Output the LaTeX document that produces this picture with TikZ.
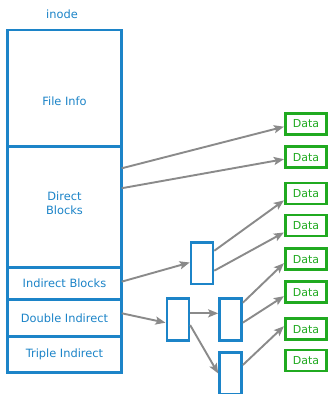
\documentclass[tikz,border=0pt]{standalone}
\usepackage{fontspec}
\setmainfont{DejaVu Sans}
\usepackage{xcolor}
\usepackage{tikz}
\usetikzlibrary{arrows.meta}
\usetikzlibrary{positioning}
\definecolor{inodeblue}{RGB}{28,132,200}
\definecolor{datagreen}{RGB}{32,170,32}
\definecolor{ptrgray}{RGB}{138,138,138}

\begin{document}
\begin{tikzpicture}[x=1bp,y=-1bp,>={Stealth[length=10bp,width=8bp,inset=2bp]}]
  \tikzstyle{row}=[draw=inodeblue, line width=2.6bp, rectangle, minimum width=114.4bp, inner sep=0pt, outer sep=0pt, text=inodeblue, font=\fontsize{11.4bp}{14bp}\selectfont, align=center]
  \tikzstyle{ptr}=[draw=inodeblue, line width=2.6bp, fill=white, minimum width=22bp, minimum height=41.5bp, inner sep=0pt]
  \tikzstyle{data}=[draw=datagreen, line width=2.6bp, text=datagreen, minimum width=41.5bp, minimum height=21bp, inner sep=0pt, font=\fontsize{11bp}{13bp}\selectfont]
  \tikzstyle{link}=[->, draw=ptrgray, fill=ptrgray, line width=1.9bp]
  \useasboundingbox[fill=white] (0,0) rectangle (328,394);

  % inode table
  \node[text=inodeblue, font=\fontsize{11.4bp}{14bp}\selectfont] (title) at (62,14) {inode};
  \node[row, minimum height=116.7bp, text height=35bp] (info) at (64.5,88.3) {File Info};
  \node[row, minimum height=121bp]   (dir) [below=0pt of info] {Direct\\Blocks\\[-6bp]};
  \node[row, minimum height=31.6bp]  (ind) [below=0pt of dir]  {Indirect Blocks};
  \node[row, minimum height=37.4bp]  (dbl) [below=0pt of ind]  {Double Indirect};
  \node[row, minimum height=35.6bp]  (tri) [below=0pt of dbl]  {Triple Indirect};

  % pointer blocks
  \node[ptr] (p1) at (202,263.3) {};
  \node[ptr] (p2) at (177.8,319.5) {};
  \node[ptr] (p3) at (230.5,319.5) {};
  \node[ptr] (p4) at (230.5,373.5) {};

  % data blocks
  \node[data] (d1) at (306,124)   {Data};
  \node[data] (d2) at (306,157.2) {Data};
  \node[data] (d3) at (306,193.4) {Data};
  \node[data] (d4) at (306,225.5) {Data};
  \node[data] (d5) at (306,259.2) {Data};
  \node[data] (d6) at (306,292.2) {Data};
  \node[data] (d7) at (306,329.2) {Data};
  \node[data] (d8) at (306,360.4) {Data};

  \draw[link] ([yshift=39pt]dir.east)  -- ([yshift=-2.7pt]d1.west);
  \draw[link] ([yshift=19pt]dir.east)  -- ([yshift=-2pt]d2.west);
  \draw[link] ([yshift=1.8pt]ind.east) -- ([yshift=0.8pt]p1.west);
  \draw[link] ([yshift=12.6pt]p1.east) -- ([yshift=-7pt]d3.west);
  \draw[link] ([yshift=-7.4pt]p1.east) -- ([yshift=-7pt]d4.west);
  \draw[link] ([yshift=4.7pt]dbl.east) -- ([yshift=-3.2pt]p2.west);
  \draw[link] ([yshift=6.2pt]p2.east)  -- ([yshift=6.2pt]p3.west);
  \draw[link] ([yshift=-5.5pt]p2.east) -- (p4.west);
  \draw[link] ([yshift=16.8pt]p3.east) -- ([yshift=-4pt]d5.west);
  \draw[link] ([yshift=-3.2pt]p3.east) -- ([yshift=-4pt]d6.west);
  \draw[link] ([yshift=8.5pt]p4.east)  -- ([yshift=3pt]d7.west);
\end{tikzpicture}
\end{document}
